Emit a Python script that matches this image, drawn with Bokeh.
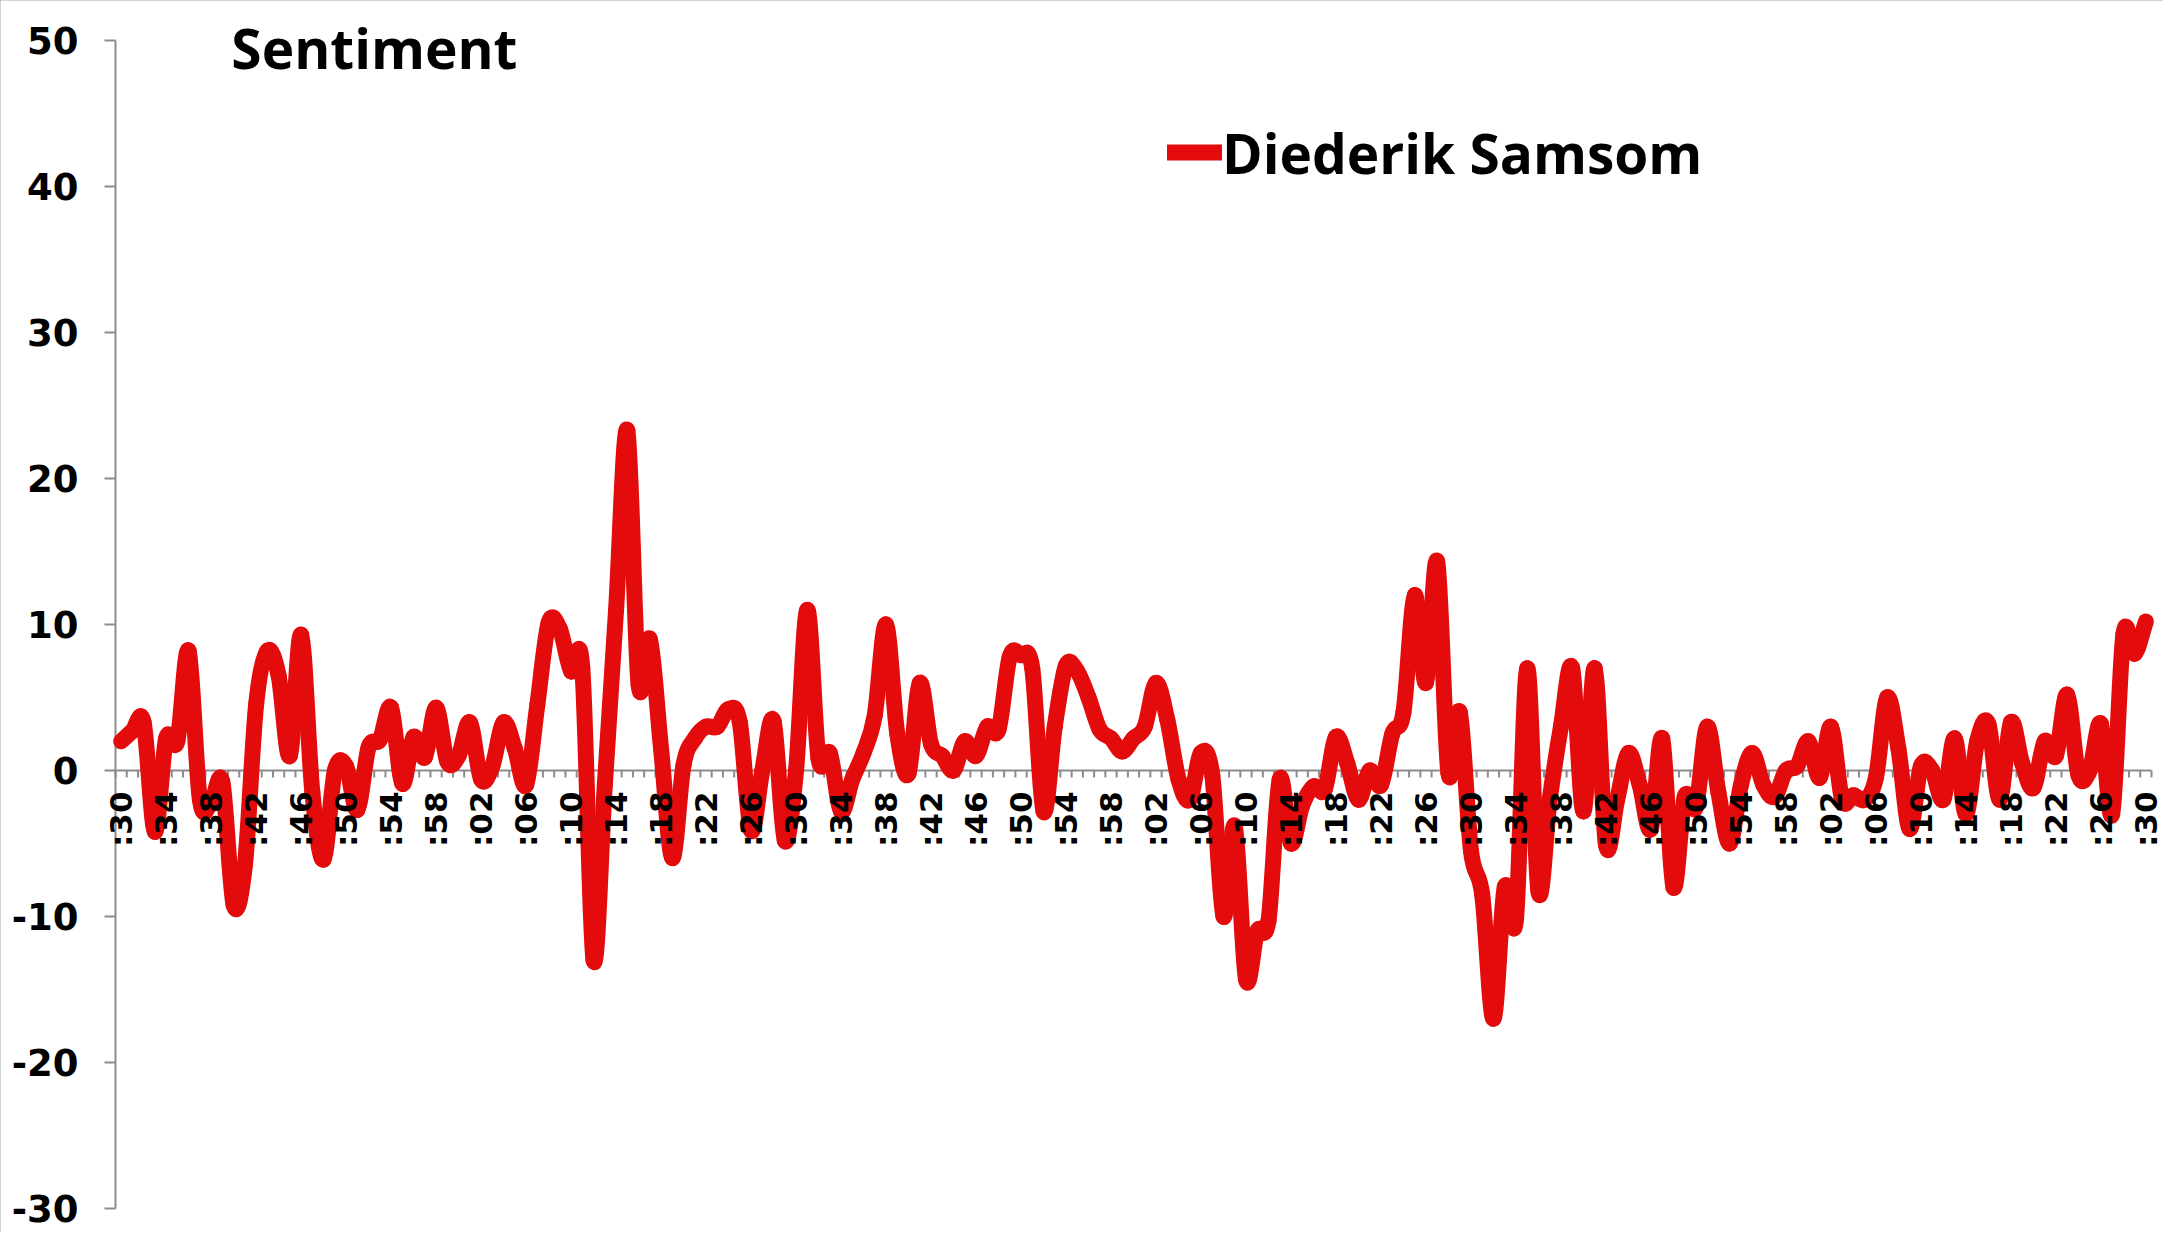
import numpy as np
from bokeh.plotting import figure
from bokeh.models import (Range1d, Label, Legend, LegendItem,
                          LabelSet, ColumnDataSource)
from bokeh.core.properties import value
from bokeh.embed import file_html
from bokeh.resources import INLINE

# ---- data (one value per minute, 181 minutes) ----
series_name = "Diederik Samsom"
sentiment = [
    2.0, 2.7, 3.3, -4.2, 2.2, 2.0, 8.2, -2.0, -2.2, -0.8,
    -9.2, -6.5, 4.5, 8.2, 6.5, 1.0, 9.3, -1.5, -6.1, 0.0,
    0.3, -2.7, 1.6, 2.1, 4.3, -0.9, 2.3, 0.9, 4.3, 0.6,
    1.0, 3.3, -0.6, 0.3, 3.3, 1.5, -1.0, 4.5, 10.1, 9.7,
    6.8, 7.0, -13.0, -1.0, 11.0, 23.3, 5.9, 9.0, 1.5, -6.0,
    0.4, 2.2, 3.0, 3.0, 4.2, 3.3, -4.1, 0.0, 3.4, -4.8,
    0.0, 11.0, 0.8, 1.2, -2.8, -0.6, 1.2, 3.8, 10.0, 2.5,
    -0.2, 6.0, 1.8, 1.0, 0.0, 2.0, 1.0, 3.0, 2.8, 7.8,
    7.9, 7.0, -2.8, 3.0, 7.2, 6.8, 5.0, 2.8, 2.2, 1.3,
    2.2, 3.0, 6.0, 3.5, -0.6, -2.0, 1.2, -0.3, -10.0, -3.8,
    -14.3, -11.0, -10.3, -0.6, -5.0, -2.4, -1.1, -1.3, 2.3, 0.5,
    -2.0, 0.0, -1.0, 2.5, 4.0, 12.0, 6.0, 14.3, -0.2, 4.0,
    -5.5, -8.5, -17.0, -8.0, -10.2, 7.0, -8.3, -2.0, 3.0, 7.0,
    -2.8, 7.0, -5.1, -2.0, 1.2, -1.0, -4.0, 2.2, -8.0, -1.8,
    -2.5, 3.0, -1.5, -5.0, -1.0, 1.2, -1.0, -1.8, 0.0, 0.3,
    2.0, -0.5, 3.0, -2.0, -1.7, -2.0, -0.5, 5.0, 1.5, -4.0,
    0.3, 0.0, -2.0, 2.2, -3.0, 2.0, 3.2, -2.0, 3.3, 0.5,
    -1.2, 2.0, 1.0, 5.2, -0.3, 0.0, 3.2, -3.0, 9.3, 8.0,
    10.2,
]
tick_labels = [
    ":30", ":34", ":38", ":42", ":46", ":50", ":54", ":58", ":02", ":06",
    ":10", ":14", ":18", ":22", ":26",
    ":30", ":34", ":38", ":42", ":46", ":50", ":54", ":58", ":02", ":06",
    ":10", ":14", ":18", ":22", ":26",
    ":30", ":34", ":38", ":42", ":46", ":50", ":54", ":58", ":02", ":06",
    ":10", ":14", ":18", ":22", ":26",
    ":30",
]
label_every = 4
y_ticks = [-30, -20, -10, 0, 10, 20, 30, 40, 50]
y_tick_labels = ["-30", "-20", "-10", "0", "10", "20", "30", "40", "50"]

# ---- styling ----
RED = "#E30B0B"
GRAY = "#8c8c8c"
W, H = 2163, 1232
PL, PR, PT, PB = 115, 2151, 40, 1208      # plot-area edges in pixels
n = len(sentiment)
xs = np.arange(n, dtype=float)
ys = np.array(sentiment, dtype=float)

px_per_x = (PR - PL) / n
px_per_y = (PB - PT) / (y_ticks[-1] - y_ticks[0])
x_lo = -0.5 - PL / px_per_x
x_hi = n - 0.5 + (W - PR) / px_per_x
y_lo = y_ticks[0] - (H - PB) / px_per_y
y_hi = y_ticks[-1] + PT / px_per_y

p = figure(
    width=W, height=H,
    x_range=Range1d(x_lo, x_hi), y_range=Range1d(y_lo, y_hi),
    output_backend="svg", toolbar_location=None, tools="",
    x_axis_location=None, y_axis_location=None,
    min_border=0, background_fill_color="white", border_fill_color="white",
)
p.outline_line_color = None
p.grid.visible = False
p.styles = {"outline": "2px solid #a6a6a6", "outline-offset": "-2px"}

x_axis_at = xs[0] - 0.5

# y axis (value axis)
p.segment(x0=[x_axis_at], y0=[y_ticks[0]], x1=[x_axis_at], y1=[y_ticks[-1]],
          line_color=GRAY, line_width=2)
p.ray(x=[x_axis_at] * len(y_ticks), y=y_ticks, length=11, length_units="screen",
      angle=np.pi, line_color=GRAY, line_width=2)
ysrc = ColumnDataSource(dict(x=[x_axis_at] * len(y_ticks), y=y_ticks, text=y_tick_labels))
p.add_layout(LabelSet(x="x", y="y", text="text", source=ysrc,
                      text_align="right", text_baseline="middle", x_offset=-37,
                      text_font=value("DejaVu Sans"), text_font_style="bold",
                      text_font_size="37px", text_color="black"))

# category axis at zero, beneath the line
p.segment(x0=[x_axis_at], y0=[0], x1=[xs[-1] + 0.5], y1=[0],
          line_color=GRAY, line_width=2)
tick_pos = np.arange(n + 1) - 0.5
p.ray(x=tick_pos, y=np.zeros(len(tick_pos)), length=7, length_units="screen",
      angle=-np.pi / 2, line_color=GRAY, line_width=2)

# smoothed series line (cubic segments through every data point)
slope = np.gradient(ys)
r = p.bezier(x0=xs[:-1], y0=ys[:-1], x1=xs[1:], y1=ys[1:],
             cx0=xs[:-1] + 1 / 3, cy0=ys[:-1] + slope[:-1] / 3,
             cx1=xs[1:] - 1 / 3, cy1=ys[1:] - slope[1:] / 3,
             line_color=RED, line_width=16, line_cap="round", line_join="round")

# category labels along the zero axis, on top of the line
lab_pos = xs[::label_every]
lab_src = ColumnDataSource(dict(x=lab_pos, y=np.zeros(len(lab_pos)), text=tick_labels))
p.add_layout(LabelSet(x="x", y="y", text="text", source=lab_src,
                      angle=np.pi / 2, text_align="right", text_baseline="middle",
                      y_offset=-21, text_font=value("DejaVu Sans"),
                      text_font_style="bold", text_font_size="31px",
                      text_color="black"))

# title
p.add_layout(Label(x=9.8, y=49.55, text="Sentiment", text_font="Open Sans",
                   text_font_style="bold", text_font_size="55px",
                   text_baseline="middle", text_color="black"))

# legend
leg = Legend(items=[LegendItem(label=series_name, renderers=[r], index=0)],
             location=(1167, 1040), padding=0, margin=0, spacing=0,
             glyph_width=55, glyph_height=80, label_height=80,
             label_standoff=0, border_line_color=None,
             background_fill_alpha=0, label_text_font="Open Sans",
             label_text_font_style="bold", label_text_font_size="55px",
             label_text_color="black")
p.add_layout(leg, "center")

open("out.html", "w").write(file_html(p, INLINE))
